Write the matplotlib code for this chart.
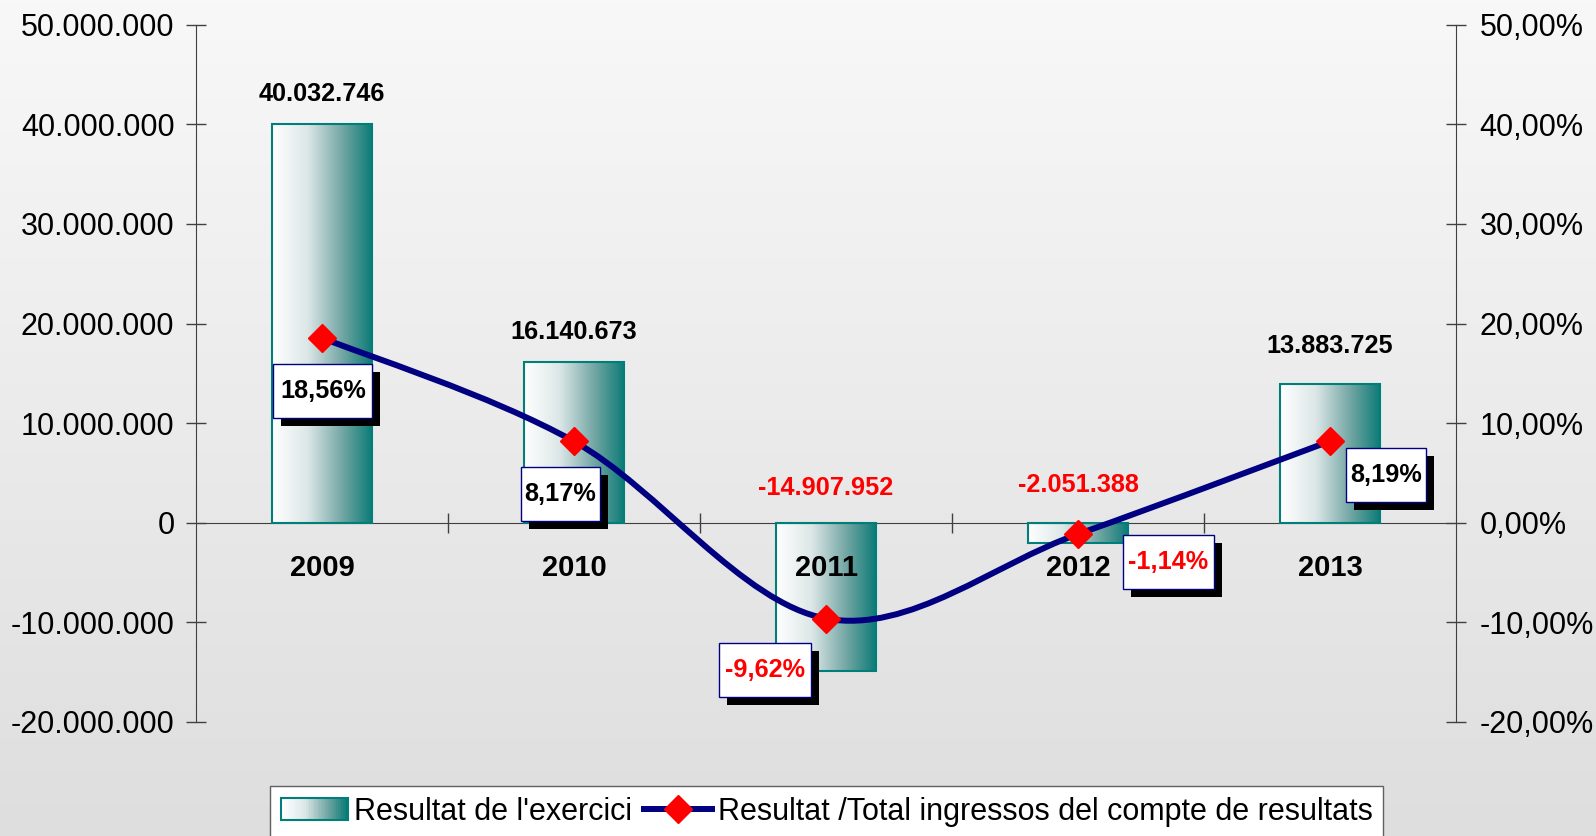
import numpy as np
import matplotlib.pyplot as plt
from matplotlib.colors import LinearSegmentedColormap
from matplotlib.patches import Rectangle, PathPatch
from matplotlib.path import Path
from matplotlib.lines import Line2D
from matplotlib.ticker import FuncFormatter, MultipleLocator
from matplotlib.transforms import ScaledTranslation
from matplotlib.legend_handler import HandlerBase

plt.rcParams['font.family'] = ['Liberation Sans', 'DejaVu Sans']

anys = ['2009', '2010', '2011', '2012', '2013']
resultat = [40032746, 16140673, -14907952, -2051388, 13883725]
ratio = [18.56, 8.17, -9.62, -1.14, 8.19]

# posicio de les etiquetes (px)
off_val = [30, 30, 35, 38, 38]
off_pct = [(1, 53), (-14, 53), (-61, 51), (90, 28), (56, 34)]
amp_pct = [99, 79, 92, 91, 80]

teal = '#007f7a'
navy = '#000080'
grad = LinearSegmentedColormap.from_list(
    'g', [(0, '#ffffff'), (0.35, '#dde7e7'), (0.7, '#72a6a4'), (1, '#0a7a75')])

fig = plt.figure(figsize=(15.96, 8.36), dpi=100)
bg = fig.add_axes([0, 0, 1, 1], zorder=-10)
bg.imshow(np.linspace(0, 1, 256).reshape(-1, 1), aspect='auto',
          cmap=LinearSegmentedColormap.from_list('bg', ['#f8f8f8', '#dedede']),
          extent=[0, 1, 0, 1])
bg.axis('off')

ax = fig.add_axes([0.1228, 0.1364, 0.9123 - 0.1228, 0.9705 - 0.1364])
ax.set_facecolor('none')

x = np.arange(len(anys))
w = 0.4
barres = ax.bar(x, resultat, w, facecolor='none', edgecolor=teal, linewidth=1.5, zorder=3)
for b in barres:
    x0, y0 = b.get_x(), b.get_y()
    im = ax.imshow(np.linspace(0, 1, 256).reshape(1, -1), cmap=grad, aspect='auto',
                   extent=[x0, x0 + b.get_width(), y0, y0 + b.get_height()], zorder=2)
    im.set_clip_path(b)

ax.set_xlim(-0.5, 4.5)
ax.set_ylim(-20e6, 50e6)
ax.spines['top'].set_visible(False)
ax.spines['right'].set_visible(False)
ax.spines['bottom'].set_position(('data', 0))
for s in ['left', 'bottom']:
    ax.spines[s].set_color('#404040')
ax.yaxis.set_major_locator(MultipleLocator(10e6))
ax.yaxis.set_major_formatter(FuncFormatter(lambda v, p: f"{int(round(v)):,}".replace(',', '.')))
ax.tick_params(axis='y', direction='inout', length=14, width=1, color='#404040', labelsize=22, pad=8.5)
ax.set_xticks([0.5, 1.5, 2.5, 3.5])
ax.set_xticklabels([])
ax.tick_params(axis='x', direction='inout', length=14, width=1, color='#404040')

for xi, v, o in zip(x, resultat, off_val):
    ax.annotate(f"{v:,}".replace(',', '.'), (xi, max(v, 0)), xytext=(0, o * 0.72),
                textcoords='offset points', ha='center', va='center', fontsize=18.2,
                fontweight='bold', color='black' if v >= 0 else 'red')
for xi, a in zip(x, anys):
    ax.annotate(a, (xi, 0), xytext=(0, -45 * 0.72), textcoords='offset points',
                ha='center', va='center', fontsize=21, fontweight='bold')

ax2 = ax.twinx()
ax2.set_ylim(-20, 50)
for s in ['top', 'left', 'bottom']:
    ax2.spines[s].set_visible(False)
ax2.spines['right'].set_color('#404040')
ax2.yaxis.set_major_locator(MultipleLocator(10))
ax2.yaxis.set_major_formatter(FuncFormatter(lambda v, p: f"{v:.2f}%".replace('.', ',')))
ax2.tick_params(axis='y', direction='inout', length=14, width=1, color='#404040', labelsize=22, pad=10)

# linia suavitzada
P = np.column_stack([x, ratio]).astype(float)
verts = [P[0]]
codes = [Path.MOVETO]
for i in range(len(P) - 1):
    p0 = P[max(i - 1, 0)]
    p1 = P[i]
    p2 = P[i + 1]
    p3 = P[min(i + 2, len(P) - 1)]
    verts += [p1 + (p2 - p0) / 6, p2 - (p3 - p1) / 6, p2]
    codes += [Path.CURVE4] * 3
ax2.add_patch(PathPatch(Path(verts, codes), fill=False, edgecolor=navy, lw=4.3,
                        capstyle='round', joinstyle='round', zorder=4))
ax2.plot(x, ratio, linestyle='none', marker='D', ms=14, mfc='red', mec='red', zorder=5)

for xi, r, (dx, dy), bw in zip(x, ratio, off_pct, amp_pct):
    tr = fig.dpi_scale_trans + ScaledTranslation(xi, r, ax2.transData)
    cx, cy, h = dx / 100, -dy / 100, 0.54
    ax2.add_patch(Rectangle((cx - bw / 200 + 0.08, cy - h / 2 - 0.08), bw / 100, h, transform=tr,
                            facecolor='black', edgecolor='none', zorder=6, clip_on=False))
    ax2.add_patch(Rectangle((cx - bw / 200, cy - h / 2), bw / 100, h, transform=tr,
                            facecolor='white', edgecolor=navy, lw=1, zorder=7, clip_on=False))
    ax2.text(cx, cy, f"{r:.2f}%".replace('.', ','), transform=tr, ha='center', va='center',
             fontsize=18.2, fontweight='bold', color='black' if r >= 0 else 'red', zorder=8)
ax2.set_ylim(-20, 50)
ax.set_xlim(-0.5, 4.5)


class GradHandler(HandlerBase):
    def create_artists(self, legend, orig, xd, yd, width, height, fontsize, trans):
        arts = []
        n = 40
        for k in range(n):
            arts.append(Rectangle((-xd + width * k / n, -yd), width / n, height,
                                  facecolor=grad(k / (n - 1)), edgecolor='none', transform=trans))
        arts.append(Rectangle((-xd, -yd), width, height, fill=False, edgecolor=teal,
                              lw=1.5, transform=trans))
        return arts


proxy = Rectangle((0, 0), 1, 1)
linia = Line2D([], [], color=navy, lw=4.3, marker='D', ms=14, mfc='red', mec='red')
fig.legend([proxy, linia], ["Resultat de l'exercici", 'Resultat /Total ingressos del compte de resultats'],
           handler_map={proxy: GradHandler()}, loc='upper center', bbox_to_anchor=(0.518, 0.0598),
           ncol=2, fontsize=22, frameon=True, fancybox=False, edgecolor='#606060', framealpha=1,
           handlelength=2.2, handletextpad=0.2, columnspacing=0.4, borderpad=0.35, borderaxespad=0)

fig.savefig('out.png', dpi=100)
